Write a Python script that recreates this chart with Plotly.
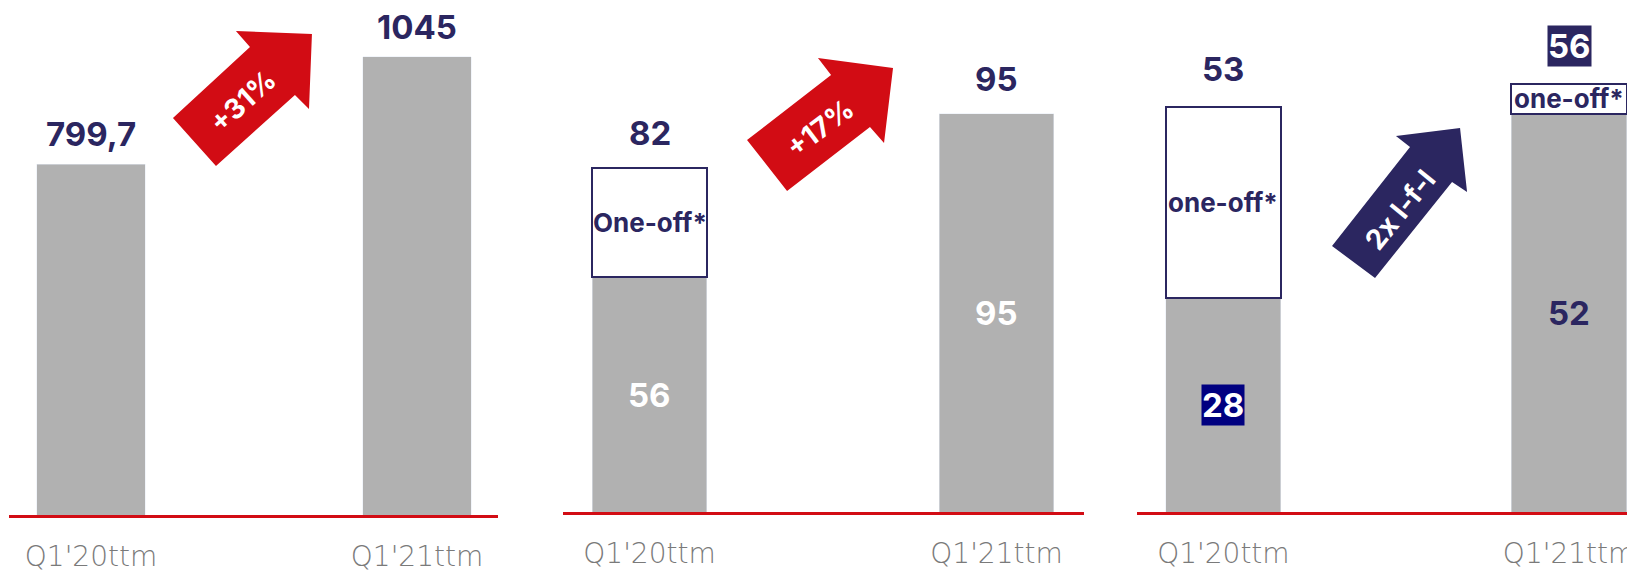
import plotly.graph_objects as go

W, H = 1635, 572
OFF = 8  # page body margin shifts the figure by 8px

# data
categories = ["Q1'20ttm", "Q1'21ttm"]
revenue = [799.7, 1045]
revenue_labels = ["799,7", "1045"]
p2_base = [56, 95]
p2_oneoff = [26, 0]
p3_base = [28, 52]
p3_oneoff = [25, 4]
growth_labels = ["+31%", "+17%", "2x l-f-l"]

NAVY = "#2b2660"
RED = "#d20c14"
GREY = "#b1b1b1"
BOLD = "Inter"
LIGHT = "DejaVu Sans"


def fx(x):
    return (x - OFF) / W


def fy(y):
    return 1 - (y - OFF) / H


def px_path(points):
    # arrow outlines are given in screen pixels
    return "M " + " L ".join(f"{fx(x):.4f},{fy(y):.4f}" for x, y in points) + " Z"


def tot(a, b):
    return [x + y for x, y in zip(a, b)]


fig = go.Figure()

# panel 1
fig.add_trace(go.Bar(x=categories, y=revenue, marker_color=GREY, width=0.333,
                     xaxis="x", yaxis="y"))
# panel 2
fig.add_trace(go.Bar(x=categories, y=p2_base, marker_color=GREY, width=0.331,
                     xaxis="x2", yaxis="y2"))
fig.add_trace(go.Bar(x=categories, y=p2_oneoff,
                     marker=dict(color="white", line=dict(color=NAVY, width=[2, 0])),
                     width=0.331, xaxis="x2", yaxis="y2"))
# panel 3
fig.add_trace(go.Bar(x=categories, y=p3_base, marker_color=GREY, width=0.333,
                     xaxis="x3", yaxis="y3"))
fig.add_trace(go.Bar(x=categories, y=p3_oneoff, marker=dict(color="white", line=dict(color=NAVY, width=2)),
                     width=0.333, xaxis="x3", yaxis="y3"))

xcommon = dict(type="category", showline=True, linecolor=RED, linewidth=2.5, ticks="",
               showgrid=False, zeroline=False, ticklabelstandoff=15,
               tickfont=dict(family=LIGHT, size=28, color="#7a7a7a", weight=200))
ycommon = dict(visible=False, showgrid=False, zeroline=False)

fig.update_layout(
    width=W, height=H, margin=dict(l=0, r=0, t=0, b=0),
    paper_bgcolor="white", plot_bgcolor="white",
    barmode="stack", showlegend=False,
    xaxis=dict(domain=[fx(9.4), fx(498)], range=[-0.2503, 1.2485], anchor="y", **xcommon),
    yaxis=dict(domain=[fy(515), 1], range=[0, (515 - OFF) / 0.4385], anchor="x", **ycommon),
    xaxis2=dict(domain=[fx(563), fx(1084)], range=[-0.2493, 1.2522], anchor="y2", **xcommon),
    yaxis2=dict(domain=[fy(512), 1], range=[0, (512 - OFF) / 4.19], anchor="x2", **ycommon),
    xaxis3=dict(domain=[fx(1137), 1], range=[-0.25, 1.214], anchor="y3", **xcommon),
    yaxis3=dict(domain=[fy(512), 1], range=[0, (512 - OFF) / 7.65], anchor="x3", **ycommon),
)

big = dict(family=BOLD, size=33, color=NAVY, weight="bold")
big_w = dict(family=BOLD, size=33, color="white", weight="bold")
small = dict(family=BOLD, size=26, color=NAVY, weight="bold")

anns = []
# totals above bars
for i, c in enumerate(categories):
    anns.append(dict(x=c, y=revenue[i], xref="x", yref="y", text=revenue_labels[i], showarrow=False,
                     yanchor="bottom", yshift=8, font=big))
p2_tot = tot(p2_base, p2_oneoff)
p3_tot = tot(p3_base, p3_oneoff)
for i, c in enumerate(categories):
    anns.append(dict(x=c, y=p2_tot[i], xref="x2", yref="y2", text=str(p2_tot[i]), showarrow=False,
                     yanchor="bottom", yshift=13, font=big))
anns.append(dict(x=categories[0], y=p3_tot[0], xref="x3", yref="y3", text=str(p3_tot[0]), showarrow=False,
                 yanchor="bottom", yshift=16, font=big))
anns.append(dict(x=categories[1], y=p3_tot[1], xref="x3", yref="y3", text=str(p3_tot[1]), showarrow=False,
                 yanchor="bottom", yshift=17, bgcolor=NAVY, borderpad=0, font=big_w))

# labels inside bar segments
for i, c in enumerate(categories):
    anns.append(dict(x=c, y=p2_base[i] / 2, xref="x2", yref="y2", text=str(p2_base[i]), showarrow=False,
                     font=big_w))
anns.append(dict(x=categories[0], y=p2_base[0] + p2_oneoff[0] / 2, xref="x2", yref="y2", text="One-off*",
                 showarrow=False, font=small))
anns.append(dict(x=categories[0], y=p3_base[0] / 2, xref="x3", yref="y3", text=str(p3_base[0]), showarrow=False,
                 bgcolor="#000080", borderpad=0, font=big_w))
anns.append(dict(x=categories[1], y=p3_base[1] / 2, xref="x3", yref="y3", text=str(p3_base[1]), showarrow=False,
                 font=big))
for i, c in enumerate(categories):
    anns.append(dict(x=c, y=p3_base[i] + p3_oneoff[i] / 2, xref="x3", yref="y3", text="one-off*",
                     showarrow=False, font=small))

# growth arrows
arrows = [
    ([(173, 118), (216, 166), (295, 95), (309, 109), (312, 34), (236, 31), (250, 47)], RED, (243, 101), -42),
    ([(747, 140), (787, 191), (870, 127), (884, 143), (893, 68), (818, 58), (831, 75)], RED, (820, 128), -37),
    ([(1332, 246), (1375, 278), (1452, 182), (1467, 192), (1460, 128), (1396, 136), (1410, 147)], NAVY,
     (1400, 210), -51),
]
shapes = []
for (pts, col, (tx, ty), ang), lab in zip(arrows, growth_labels):
    shapes.append(dict(type="path", path=px_path(pts), xref="paper", yref="paper",
                       fillcolor=col, line=dict(width=0)))
    anns.append(dict(x=fx(tx), y=fy(ty), xref="paper", yref="paper", text=lab, showarrow=False,
                     xanchor="center", yanchor="middle", textangle=ang,
                     font=dict(family=BOLD, size=28, color="white", weight="bold")))

fig.update_layout(annotations=anns, shapes=shapes)

fig.write_html("out.html")
